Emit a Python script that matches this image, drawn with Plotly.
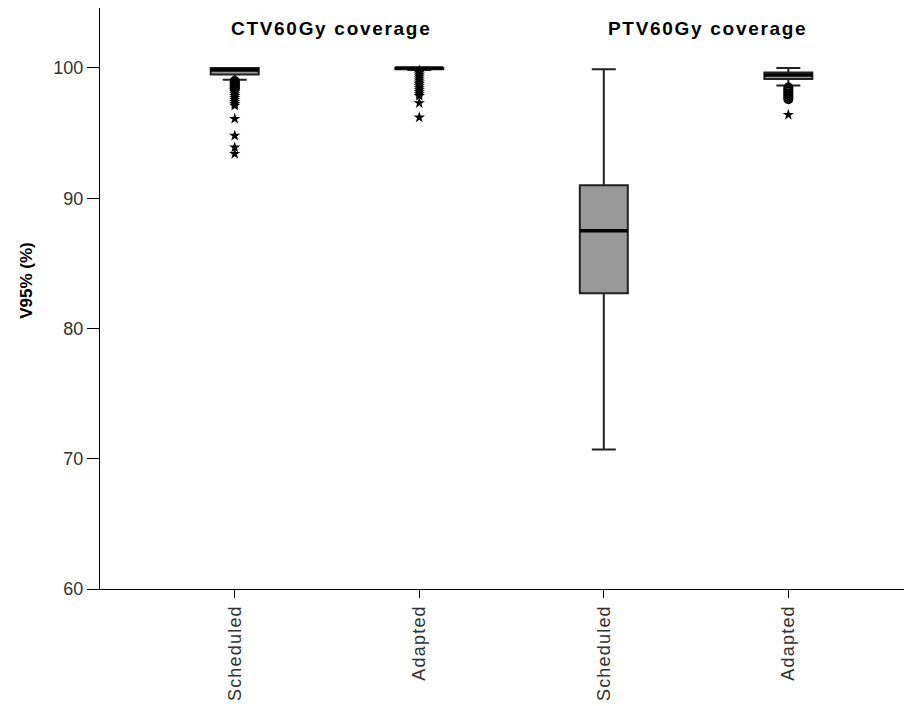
import plotly.graph_objects as go

# ---- data ----
categories = ["Scheduled", "Adapted", "Scheduled", "Adapted"]
positions = [0, 1, 2, 3]
group_titles = ["CTV60Gy coverage", "PTV60Gy coverage"]
y_title = "V95% (%)"

q1 = [99.5, 99.9, 82.7, 99.15]
median = [99.85, 100.0, 87.5, 99.45]
q3 = [100.0, 100.0, 91.0, 99.65]
lower_fence = [99.1, 99.85, 70.7, 98.65]
upper_fence = [100.0, 100.0, 99.9, 100.0]

# mild outliers (circles) and extreme outliers (stars)
circles = [
    [99.0, 98.9, 98.8, 98.7, 98.6, 98.5, 98.4],
    [],
    [],
    [98.5, 98.35, 98.2, 98.05, 97.9, 97.75, 97.6],
]
stars = [
    [98.3, 98.15, 98.0, 97.85, 97.7, 97.55, 97.4, 97.25, 97.1, 96.1, 94.8, 93.9, 93.4],
    [99.8, 99.65, 99.5, 99.35, 99.2, 99.05, 98.9, 98.75, 98.6, 98.45, 98.3, 98.15, 98.0, 97.85, 97.3, 96.2],
    [],
    [96.4],
]

y_ticks = [60, 70, 80, 90, 100]

BOX_W = 0.26
FONT = "Liberation Sans, Arial, sans-serif"


def spaced(t, px):
    return '<span style="letter-spacing:%spx">%s</span>' % (px, t)


fig = go.Figure()

for i, p in enumerate(positions):
    fig.add_trace(go.Box(
        x=[p], q1=[q1[i]], median=[median[i]], q3=[q3[i]],
        lowerfence=[lower_fence[i]], upperfence=[upper_fence[i]],
        width=BOX_W, whiskerwidth=0.5,
        fillcolor="#999999", line=dict(color="#222222", width=2),
        boxpoints=False, showlegend=False, hoverinfo="skip",
    ))
    # thick median line
    fig.add_trace(go.Scatter(
        x=[p - BOX_W / 2, p + BOX_W / 2], y=[median[i], median[i]],
        mode="lines", line=dict(color="black", width=3.5),
        showlegend=False, hoverinfo="skip",
    ))
    if circles[i]:
        fig.add_trace(go.Scatter(
            x=[p] * len(circles[i]), y=circles[i], mode="markers",
            marker=dict(symbol="circle-open", size=8, color="black",
                        line=dict(width=2, color="black")),
            showlegend=False, hoverinfo="skip",
        ))
    if stars[i]:
        fig.add_trace(go.Scatter(
            x=[p] * len(stars[i]), y=stars[i], mode="markers",
            marker=dict(symbol="star", size=8.5, color="black",
                        line=dict(width=0)),
            showlegend=False, hoverinfo="skip",
        ))

for gx, title in zip([0.52, 2.56], group_titles):
    fig.add_annotation(x=gx, y=1.0, xref="x", yref="paper", yanchor="top",
                       text="<b>" + spaced(title, 1.7) + "</b>", showarrow=False,
                       yshift=-8, font=dict(family=FONT, size=19, color="black"))

# y-axis title as annotation (placed slightly above plot centre, as in reference)
fig.add_annotation(x=-0.09, y=0.532, xref="paper", yref="paper",
                   xanchor="center", yanchor="middle", textangle=-90,
                   text="<b>" + y_title + "</b>", showarrow=False,
                   font=dict(family=FONT, size=17, color="black"))

fig.update_layout(
    width=904, height=698,
    margin=dict(l=92, r=0, t=0, b=117),
    paper_bgcolor="white", plot_bgcolor="white",
    font=dict(family=FONT, size=18, color="#333333"),
    showlegend=False,
)
fig.update_xaxes(
    range=[-0.73, 3.67], tickmode="array", tickvals=positions,
    ticktext=[spaced(c, 1.2) for c in categories],
    tickangle=-90, ticks="outside", ticklen=8, tickcolor="black", tickwidth=1,
    showline=True, linecolor="black", linewidth=1, mirror=True,
    showgrid=False, zeroline=False, automargin=False,
    tickfont=dict(family=FONT, size=18, color="#333333"),
)
fig.update_yaxes(
    range=[60, 104.6], tickmode="array", tickvals=y_ticks,
    ticks="outside", ticklen=12, tickcolor="black", tickwidth=1,
    showline=True, linecolor="black", linewidth=1,
    showgrid=False, zeroline=False, automargin=False,
    tickfont=dict(family=FONT, size=18, color="#333333"),
)

fig.write_html("out.html")
